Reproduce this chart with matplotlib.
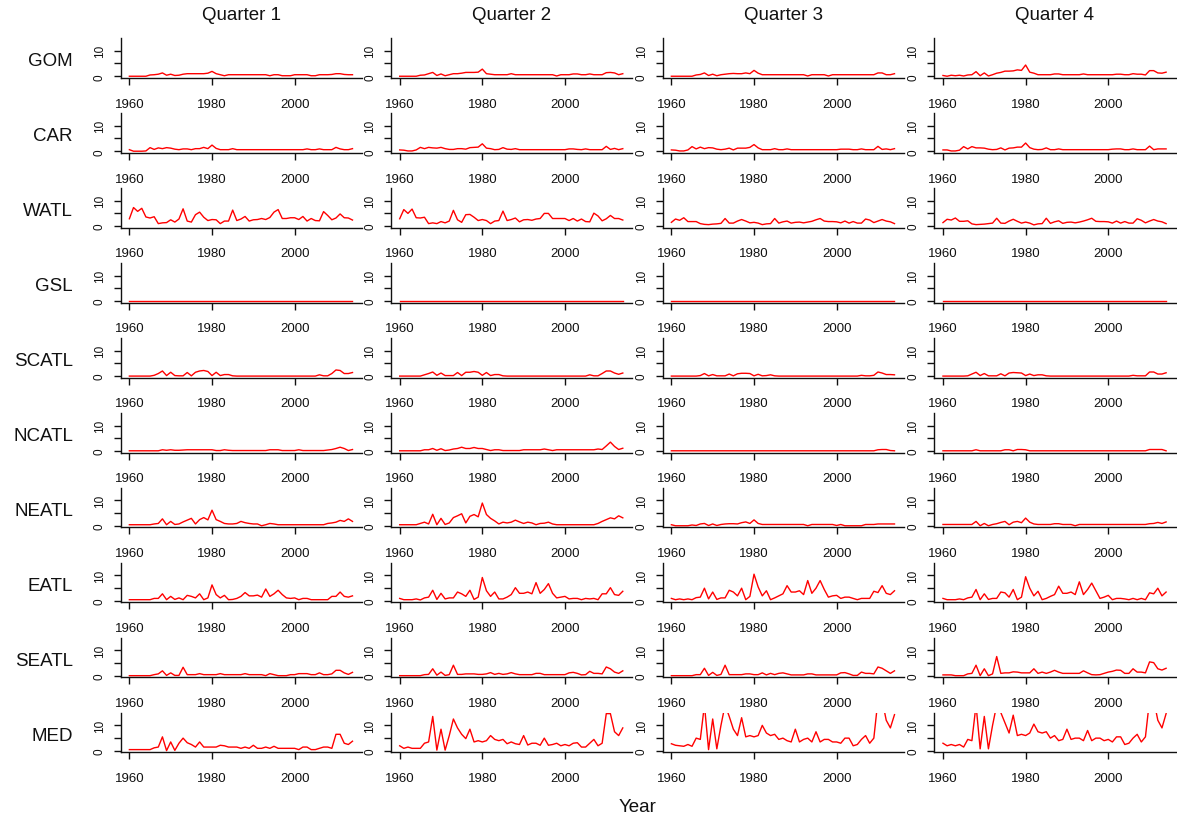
import matplotlib
matplotlib.use("Agg")
import matplotlib.pyplot as plt

plt.rcParams['font.family'] = ['Liberation Sans', 'DejaVu Sans']

years = list(range(1960, 2015))
quarters = ["Quarter 1", "Quarter 2", "Quarter 3", "Quarter 4"]
regions = ["GOM", "CAR", "WATL", "GSL", "SCATL", "NCATL", "NEATL", "EATL", "SEATL", "MED"]

# one list per quarter, 1960..2014
gom = [
    [0, 0, 0, 0, 0, 0.5, 0.6, 0.8, 1.3, 0.4,
     0.8, 0.3, 0.4, 0.8, 1.0, 1.0, 1.0, 1.0, 1.0, 1.2,
     1.9, 1.0, 0.6, 0.2, 0.6, 0.6, 0.6, 0.6, 0.6, 0.6,
     0.6, 0.6, 0.6, 0.6, 0.2, 0.6, 0.6, 0.2, 0.2, 0.2,
     0.6, 0.6, 0.6, 0.6, 0.2, 0.2, 0.6, 0.6, 0.6, 0.7,
     1.0, 1.0, 0.7, 0.6, 0.6],
    [0, 0, 0, 0, 0, 0.4, 0.5, 1.0, 1.5, 0.3,
     0.9, 0.2, 0.6, 1.0, 1.0, 1.2, 1.5, 1.5, 1.5, 1.6,
     2.8, 1.0, 0.8, 0.6, 0.6, 0.6, 0.6, 1.0, 0.6, 0.6,
     0.6, 0.6, 0.6, 0.6, 0.6, 0.6, 0.6, 0.6, 0.1, 0.6,
     0.6, 0.6, 0.9, 0.9, 0.6, 0.6, 0.9, 0.6, 0.6, 0.6,
     1.4, 1.5, 1.3, 0.6, 1.0],
    [0, 0, 0, 0, 0, 0, 0.5, 0.7, 1.3, 0.3,
     0.8, 0.2, 0.6, 0.8, 1.0, 1.1, 1.0, 1.0, 1.3, 1.0,
     2.3, 1.2, 0.6, 0.6, 0.6, 0.6, 0.6, 0.6, 0.6, 0.6,
     0.6, 0.6, 0.6, 0.1, 0.6, 0.6, 0.6, 0.6, 0.1, 0.6,
     0.6, 0.6, 0.6, 0.6, 0.6, 0.6, 0.6, 0.6, 0.6, 0.6,
     1.3, 1.3, 0.6, 0.6, 1.0],
    [0.3, 0, 0.4, 0.2, 0.4, 0.1, 0.5, 0.6, 1.8, 0.2,
     1.3, 0.1, 0.6, 1.2, 1.5, 2.0, 2.0, 2.1, 2.5, 2.3,
     4.4, 1.6, 1.2, 0.6, 0.6, 0.6, 0.6, 0.9, 0.9, 0.6,
     0.6, 0.6, 0.6, 0.6, 0.9, 0.6, 0.6, 0.6, 0.6, 0.6,
     0.6, 0.6, 0.8, 0.8, 0.6, 0.6, 1.0, 0.8, 0.8, 0.5,
     2.2, 2.2, 1.3, 1.2, 1.6],
]

car = [
    [0.6, 0, 0, 0, 0.1, 1.4, 0.7, 1.3, 1.0, 1.4,
     1.2, 0.8, 0.6, 0.9, 0.9, 0.6, 1.0, 1.0, 1.5, 1.0,
     2.4, 1.1, 0.6, 0.6, 0.6, 1.0, 0.6, 0.6, 0.6, 0.6,
     0.6, 0.6, 0.6, 0.6, 0.6, 0.6, 0.6, 0.6, 0.6, 0.6,
     0.6, 0.6, 0.6, 0.9, 0.6, 0.6, 0.9, 0.6, 0.6, 0.6,
     1.5, 0.9, 0.6, 0.6, 1.0],
    [0.5, 0.4, 0.1, 0.1, 0.5, 1.5, 1.0, 1.5, 1.3, 1.2,
     1.5, 1.0, 0.7, 0.7, 1.0, 1.0, 0.8, 1.4, 1.5, 1.6,
     2.9, 1.2, 1.0, 0.6, 0.7, 1.4, 0.8, 0.7, 1.0, 0.6,
     0.6, 0.6, 0.6, 0.6, 0.6, 0.6, 0.6, 0.6, 0.6, 0.6,
     0.6, 0.9, 0.9, 0.7, 0.6, 0.9, 0.6, 0.6, 0.6, 0.6,
     1.9, 0.7, 1.1, 0.6, 1.0],
    [0.5, 0.4, 0.1, 0.1, 0.5, 1.8, 0.9, 1.6, 1.0, 1.4,
     1.3, 0.8, 0.6, 0.8, 1.2, 0.5, 1.2, 1.2, 1.2, 1.5,
     2.6, 1.3, 0.6, 0.6, 0.6, 1.0, 0.6, 0.6, 0.9, 0.6,
     0.6, 0.6, 0.6, 0.6, 0.6, 0.6, 0.6, 0.6, 0.6, 0.6,
     0.6, 0.8, 0.8, 0.8, 0.6, 0.6, 0.9, 0.6, 0.6, 0.6,
     1.9, 0.7, 0.9, 0.6, 1.0],
    [0.5, 0.5, 0.1, 0.1, 0.4, 1.8, 0.9, 1.8, 1.3, 1.3,
     1.2, 0.8, 0.6, 0.7, 1.3, 0.5, 1.2, 1.3, 1.6, 1.6,
     3.2, 1.4, 0.8, 0.6, 0.7, 1.3, 0.6, 0.6, 0.9, 0.6,
     0.6, 0.6, 0.6, 0.6, 0.6, 0.6, 0.6, 0.6, 0.6, 0.6,
     0.6, 0.8, 0.9, 0.9, 0.6, 0.6, 0.9, 0.6, 0.6, 0.6,
     2.0, 0.6, 0.9, 0.9, 0.9],
]

watl = [
    [2.9, 7.3, 5.8, 7.0, 3.6, 3.2, 3.7, 1.0, 1.3, 1.4,
     2.5, 1.6, 2.8, 6.8, 2.0, 1.6, 4.5, 5.5, 3.5, 2.2,
     2.6, 2.5, 1.0, 2.0, 2.0, 6.3, 2.2, 2.8, 3.8, 2.0,
     2.5, 2.6, 3.0, 2.6, 3.4, 5.5, 6.5, 3.0, 3.0, 3.3,
     3.3, 2.6, 3.8, 2.0, 3.0, 2.2, 2.1, 5.7, 4.2, 2.5,
     3.2, 4.8, 3.3, 3.2, 2.4],
    [2.9, 6.5, 5.0, 6.7, 3.3, 3.2, 3.5, 1.0, 1.3, 1.0,
     1.8, 1.3, 2.0, 6.2, 2.5, 1.5, 4.5, 4.6, 3.5, 2.2,
     2.6, 2.2, 1.0, 2.0, 2.2, 5.9, 2.2, 2.6, 3.2, 1.7,
     2.5, 2.6, 2.3, 2.8, 3.0, 5.0, 5.0, 3.0, 3.0, 3.0,
     3.0, 2.2, 3.0, 2.0, 2.8, 1.8, 1.7, 5.1, 4.0, 2.1,
     2.9, 4.2, 3.0, 3.0, 2.4],
    [1.5, 2.8, 2.3, 3.3, 1.8, 1.8, 1.8, 1.0, 0.7, 0.6,
     0.8, 0.9, 1.1, 3.0, 1.2, 1.2, 2.0, 2.6, 2.0, 1.3,
     1.5, 1.2, 0.6, 0.9, 1.0, 3.0, 1.2, 1.7, 2.0, 1.2,
     1.5, 1.6, 1.3, 1.6, 1.9, 2.5, 3.0, 2.0, 1.8, 1.8,
     1.7, 1.3, 2.0, 1.2, 1.8, 1.2, 1.2, 2.8, 2.4, 1.4,
     2.0, 2.6, 2.0, 1.7, 1.0],
    [1.4, 2.7, 2.4, 3.2, 1.9, 1.9, 2.1, 0.9, 0.6, 0.7,
     0.8, 1.0, 1.2, 3.1, 1.2, 1.1, 2.0, 2.7, 1.9, 1.2,
     1.6, 1.2, 0.5, 0.9, 1.0, 3.1, 1.1, 1.7, 2.1, 1.1,
     1.5, 1.6, 1.3, 1.6, 2.0, 2.5, 3.1, 1.9, 1.8, 1.8,
     1.7, 1.2, 2.0, 1.2, 1.8, 1.2, 1.2, 2.9, 2.3, 1.3,
     2.0, 2.6, 2.0, 1.7, 1.0],
]

gsl_q = [0, 0, 0, 0, 0, 0, 0, 0, 0, 0,
         0, 0, 0, 0, 0, 0, 0, 0, 0, 0,
         0, 0, 0, 0, 0, 0, 0, 0, 0, 0,
         0, 0, 0, 0, 0, 0, 0, 0, 0, 0,
         0, 0, 0, 0, 0, 0, 0, 0, 0, 0,
         0, 0, 0, 0, 0]
gsl = [gsl_q, gsl_q, gsl_q, gsl_q]

scatl = [
    [0, 0, 0, 0, 0, 0, 0.3, 1.0, 2.0, 0.2,
     1.5, 0.2, 0.1, 0.1, 1.4, 0.1, 1.5, 2.0, 2.2, 1.8,
     0.2, 1.5, 0.2, 0.6, 0.6, 0.1, 0, 0, 0, 0,
     0, 0, 0, 0, 0, 0, 0, 0, 0, 0,
     0, 0, 0, 0, 0, 0, 0.5, 0.1, 0.1, 1.0,
     2.4, 2.2, 1.0, 1.0, 1.4],
    [0, 0, 0, 0, 0, 0, 0.5, 1.0, 1.6, 0.3,
     1.2, 0.2, 0.2, 0.2, 1.4, 0.2, 1.5, 1.5, 1.8, 1.5,
     0.3, 1.4, 0.2, 0.6, 0.6, 0.1, 0, 0, 0, 0,
     0, 0, 0, 0, 0, 0, 0, 0, 0, 0,
     0, 0, 0, 0, 0, 0, 0.5, 0.1, 0.1, 1.0,
     2.0, 2.0, 1.2, 0.7, 1.2],
    [0, 0, 0, 0, 0, 0, 0, 0.2, 1.0, 0.1,
     0.6, 0.1, 0.1, 0.1, 0.8, 0.1, 0.9, 1.1, 1.1, 1.0,
     0.1, 0.7, 0.1, 0.2, 0.5, 0.1, 0, 0, 0, 0,
     0, 0, 0, 0, 0, 0, 0, 0, 0, 0,
     0, 0, 0, 0, 0, 0, 0.3, 0.1, 0.1, 0.3,
     1.6, 1.2, 0.6, 0.6, 0.5],
    [0, 0, 0, 0, 0, 0, 0.1, 0.8, 1.5, 0.2,
     1.0, 0.1, 0.1, 0.1, 0.9, 0.1, 1.2, 1.4, 1.3, 1.2,
     0.2, 0.8, 0.2, 0.5, 0.5, 0.1, 0, 0, 0, 0,
     0, 0, 0, 0, 0, 0, 0, 0, 0, 0,
     0, 0, 0, 0, 0, 0, 0.3, 0.1, 0.1, 0.1,
     1.6, 1.6, 0.8, 0.8, 1.3],
]

ncatl = [
    [0.1, 0.1, 0.1, 0.1, 0.1, 0.1, 0.1, 0.1, 0.5, 0.3,
     0.5, 0.3, 0.3, 0.4, 0.5, 0.5, 0.5, 0.5, 0.5, 0.5,
     0.5, 0.2, 0.2, 0.5, 0.3, 0.2, 0.2, 0.2, 0.2, 0.2,
     0.2, 0.2, 0.2, 0.2, 0.5, 0.5, 0.5, 0.2, 0.2, 0.2,
     0.2, 0.5, 0.2, 0.2, 0.2, 0.2, 0.2, 0.2, 0.4, 0.6,
     1.0, 1.5, 1.0, 0.2, 0.6],
    [0.1, 0.1, 0.1, 0.1, 0.1, 0.1, 0.5, 0.5, 1.0, 0.3,
     0.9, 0.2, 0.4, 0.8, 1.0, 1.5, 1.0, 1.0, 1.4, 1.0,
     1.0, 0.6, 0.2, 0.5, 0.5, 0.2, 0.2, 0.2, 0.2, 0.2,
     0.5, 0.5, 0.5, 0.5, 0.5, 0.8, 0.5, 0.2, 0.5, 0.5,
     0.5, 0.5, 0.5, 0.5, 0.5, 0.5, 0.5, 0.5, 0.8, 0.6,
     2.0, 3.5, 1.8, 0.6, 1.1],
    [0.1, 0.1, 0.1, 0.1, 0.1, 0.1, 0.1, 0.1, 0.1, 0.1,
     0.1, 0.1, 0.1, 0.1, 0.1, 0.1, 0.1, 0.1, 0.1, 0.1,
     0.1, 0.1, 0.1, 0.1, 0.1, 0.1, 0.1, 0.1, 0.1, 0.1,
     0.1, 0.1, 0.1, 0.1, 0.1, 0.1, 0.1, 0.1, 0.1, 0.1,
     0.1, 0.1, 0.1, 0.1, 0.1, 0.1, 0.1, 0.1, 0.1, 0.1,
     0.5, 0.6, 0.6, 0.2, 0.1],
    [0.1, 0.1, 0.1, 0.1, 0.1, 0.1, 0.1, 0.1, 0.5, 0.1,
     0.1, 0.1, 0.1, 0.1, 0.1, 0.5, 0.5, 0.1, 0.6, 0.6,
     0.5, 0.1, 0.1, 0.1, 0.1, 0.1, 0.1, 0.1, 0.1, 0.1,
     0.1, 0.1, 0.1, 0.1, 0.1, 0.1, 0.1, 0.1, 0.1, 0.1,
     0.1, 0.1, 0.1, 0.1, 0.1, 0.1, 0.1, 0.1, 0.1, 0.1,
     0.6, 0.6, 0.6, 0.6, 0.1],
]

neatl = [
    [0.5, 0.5, 0.5, 0.5, 0.5, 0.5, 0.8, 1.0, 2.8, 0.5,
     1.8, 0.6, 0.8, 1.6, 2.3, 3.0, 0.8, 2.5, 3.3, 2.4,
     6.2, 2.5, 1.8, 1.0, 0.8, 0.8, 1.0, 1.8, 1.3, 1.0,
     0.8, 0.8, 0.1, 0.5, 1.0, 0.8, 0.5, 0.5, 0.5, 0.5,
     0.5, 0.5, 0.5, 0.5, 0.5, 0.5, 0.5, 0.5, 1.0, 1.2,
     1.5, 2.2, 1.8, 2.8, 1.8],
    [0.5, 0.5, 0.5, 0.5, 0.5, 1.0, 1.5, 0.8, 4.6, 0.5,
     3.0, 0.6, 1.2, 3.3, 4.0, 4.8, 1.2, 3.8, 4.5, 3.6,
     9.0, 4.5, 3.0, 2.0, 0.8, 1.5, 1.2, 1.5, 2.3, 1.6,
     1.0, 1.5, 1.2, 0.5, 1.0, 1.1, 1.5, 0.8, 0.5, 0.5,
     0.5, 0.5, 0.5, 0.5, 0.5, 0.5, 0.5, 0.5, 1.0, 1.8,
     2.5, 3.2, 2.8, 4.0, 3.2],
    [0.5, 0.1, 0.1, 0.1, 0.1, 0.4, 0.2, 0.8, 1.0, 0.2,
     0.8, 0.2, 0.6, 0.8, 0.9, 0.9, 0.8, 1.3, 1.6, 1.0,
     2.4, 1.0, 0.6, 0.6, 0.6, 0.6, 0.6, 0.6, 0.6, 0.6,
     0.6, 0.6, 0.6, 0.1, 0.6, 0.6, 0.6, 0.6, 0.6, 0.6,
     0.2, 0.6, 0.1, 0.1, 0.1, 0.1, 0.1, 0.6, 0.6, 0.6,
     0.8, 0.8, 0.8, 0.8, 0.8],
    [0.6, 0.6, 0.6, 0.6, 0.6, 0.6, 0.6, 0.6, 1.8, 0.1,
     1.0, 0.1, 0.6, 0.9, 1.4, 1.8, 0.5, 1.5, 1.8, 1.3,
     3.1, 1.5, 0.8, 0.6, 0.6, 0.6, 0.6, 0.9, 0.9, 0.6,
     0.6, 0.6, 0.1, 0.6, 0.6, 0.6, 0.6, 0.6, 0.6, 0.6,
     0.6, 0.6, 0.6, 0.6, 0.6, 0.6, 0.6, 0.6, 0.6, 0.6,
     0.9, 1.0, 1.4, 1.0, 1.6],
]

eatl = [
    [0.5, 0.5, 0.5, 0.5, 0.5, 0.5, 1.0, 1.0, 2.8, 0.5,
     1.8, 0.6, 1.2, 0.5, 2.2, 1.8, 1.2, 2.8, 0.5, 1.2,
     6.3, 2.5, 1.2, 2.2, 0.5, 0.6, 1.0, 1.8, 3.3, 2.0,
     2.0, 2.3, 1.5, 4.7, 1.8, 2.8, 4.2, 2.5, 1.2, 1.0,
     1.2, 0.5, 1.0, 1.0, 0.5, 0.5, 0.5, 0.5, 0.5, 1.8,
     1.8, 3.5, 1.8, 1.5, 2.0],
    [1.0, 0.5, 0.5, 0.5, 0.8, 0.4, 1.2, 1.5, 4.2, 0.6,
     3.0, 0.8, 1.2, 1.2, 3.5, 2.8, 1.8, 4.2, 0.6, 1.5,
     9.2, 4.0, 1.8, 3.5, 0.8, 0.8, 1.5, 2.5, 5.2, 3.0,
     3.0, 3.5, 2.8, 7.2, 3.0, 4.5, 6.8, 3.0, 1.2, 1.5,
     1.8, 0.8, 1.0, 1.0, 0.5, 1.0, 0.8, 1.0, 0.5, 2.8,
     2.8, 5.2, 2.5, 2.2, 3.8],
    [1.0, 0.5, 0.8, 0.5, 0.8, 0.5, 1.3, 1.5, 5.0, 0.8,
     3.5, 0.6, 1.2, 1.2, 4.2, 3.5, 2.0, 5.0, 0.5, 1.8,
     10.5, 5.5, 2.0, 4.0, 0.5, 1.2, 2.0, 2.8, 6.0, 3.5,
     3.5, 4.0, 2.5, 8.0, 3.0, 5.0, 8.0, 4.5, 1.5, 2.0,
     2.2, 1.0, 1.5, 1.5, 1.0, 0.5, 1.0, 1.0, 1.0, 3.8,
     3.3, 6.0, 3.0, 2.5, 4.0],
    [1.0, 0.5, 0.5, 0.5, 0.8, 0.5, 1.2, 1.5, 4.5, 0.5,
     2.8, 0.6, 1.0, 1.0, 3.5, 3.2, 1.5, 4.5, 0.5, 1.5,
     9.5, 5.0, 2.0, 3.8, 0.5, 1.0, 1.8, 2.5, 5.8, 3.0,
     3.0, 3.5, 2.5, 7.5, 2.5, 4.5, 7.0, 4.0, 1.0, 1.5,
     2.2, 0.5, 1.0, 1.0, 0.8, 0.5, 1.0, 0.5, 1.0, 0.5,
     3.2, 2.8, 5.0, 2.0, 3.5],
]

seatl = [
    [0.1, 0.1, 0.1, 0.1, 0.1, 0.1, 0.5, 0.8, 2.0, 0.2,
     1.2, 0.2, 0.2, 3.4, 0.5, 0.5, 0.5, 0.9, 0.5, 0.5,
     0.5, 0.5, 0.9, 0.5, 0.5, 0.5, 0.5, 0.5, 0.9, 0.5,
     0.5, 0.5, 0.5, 0.1, 0.9, 0.5, 0.1, 0.1, 0.1, 0.5,
     0.5, 0.9, 0.9, 0.9, 0.5, 0.5, 1.2, 0.5, 0.5, 0.8,
     2.2, 2.2, 1.2, 0.6, 1.4],
    [0.1, 0.1, 0.1, 0.1, 0.1, 0.1, 0.5, 0.6, 2.8, 0.3,
     1.5, 0.2, 0.5, 4.2, 0.6, 0.6, 0.8, 0.8, 0.8, 0.6,
     0.6, 0.8, 1.3, 0.6, 1.0, 0.6, 0.8, 1.3, 0.8, 0.5,
     0.5, 0.5, 0.5, 1.0, 1.0, 0.5, 0.5, 0.5, 0.5, 0.5,
     0.5, 1.2, 1.4, 1.0, 0.4, 0.5, 1.8, 1.0, 1.0, 0.8,
     3.5, 2.8, 1.5, 1.0, 2.0],
    [0.1, 0.1, 0.1, 0.1, 0.1, 0.1, 0.5, 0.5, 3.0, 0.2,
     1.4, 0.2, 0.6, 4.2, 0.5, 0.5, 0.5, 0.5, 0.8, 0.8,
     0.5, 0.5, 1.2, 0.4, 1.0, 0.5, 1.0, 1.2, 0.8, 0.4,
     0.4, 0.4, 0.4, 0.8, 0.8, 0.4, 0.4, 0.4, 0.4, 0.4,
     0.4, 1.2, 1.3, 0.8, 0.2, 0.2, 1.5, 1.0, 1.0, 0.8,
     3.5, 3.0, 2.0, 1.0, 2.0],
    [0.4, 0.4, 0.4, 0.1, 0.1, 0.1, 0.8, 1.0, 4.2, 0.1,
     2.8, 0.1, 0.8, 7.6, 1.0, 1.2, 1.2, 1.6, 1.5, 1.2,
     1.2, 1.2, 2.8, 1.0, 1.5, 1.0, 1.5, 2.2, 1.5, 1.0,
     1.0, 1.0, 1.0, 1.0, 2.0, 1.2, 0.5, 0.4, 0.5, 1.0,
     1.5, 1.8, 2.3, 2.2, 1.0, 1.0, 2.8, 1.5, 1.5, 1.2,
     5.5, 5.2, 2.8, 2.3, 3.0],
]

med = [
    [0.5, 0.5, 0.5, 0.5, 0.5, 0.5, 1.2, 1.5, 5.5, 0.1,
     3.5, 0.2, 3.0, 5.0, 3.2, 2.5, 1.5, 3.5, 1.5, 1.5,
     1.5, 1.5, 2.2, 2.0, 1.5, 1.5, 1.5, 1.0, 1.5, 1.0,
     2.2, 1.0, 1.0, 1.5, 1.0, 1.8, 1.0, 1.0, 1.0, 1.0,
     1.0, 0.5, 1.5, 1.5, 0.5, 0.5, 1.0, 1.5, 1.5, 1.0,
     6.5, 6.5, 3.0, 2.5, 3.8],
    [2.0, 1.0, 1.5, 1.0, 1.0, 1.0, 3.0, 3.5, 13.5, 0.3,
     8.5, 0.3, 6.0, 12.5, 9.0, 6.5, 4.8, 8.5, 3.5, 4.0,
     3.5, 4.0, 6.0, 4.5, 4.0, 4.5, 2.8, 3.5, 2.8, 2.5,
     6.0, 2.3, 3.0, 3.0, 2.2, 5.0, 2.2, 2.5, 3.0, 2.0,
     2.5, 2.0, 3.0, 3.2, 1.5, 1.5, 3.0, 4.5, 2.0, 3.0,
     14.6, 14.6, 7.5, 6.0, 9.0],
    [2.8, 2.2, 2.0, 1.8, 2.5, 1.8, 5.0, 4.5, 18.0, 0.5,
     12.5, 0.8, 10.0, 18.0, 13.5, 8.5, 6.0, 13.0, 5.5, 6.0,
     5.5, 6.0, 10.0, 7.0, 6.0, 6.5, 4.5, 5.0, 4.0, 3.5,
     8.5, 3.5, 4.5, 5.0, 3.5, 7.5, 3.5, 4.5, 4.5, 3.5,
     3.5, 3.0, 5.0, 5.0, 2.0, 2.5, 4.5, 6.0, 3.0, 5.0,
     20.0, 20.0, 12.0, 9.0, 14.2],
    [3.0, 2.0, 2.5, 2.0, 2.5, 1.5, 4.5, 4.0, 18.0, 0.8,
     13.5, 0.8, 10.0, 18.0, 15.0, 11.0, 7.0, 14.0, 6.0, 6.5,
     6.0, 7.0, 10.5, 7.5, 7.0, 7.5, 5.0, 6.0, 4.0, 4.5,
     8.5, 4.5, 5.0, 5.0, 4.0, 8.0, 4.0, 5.0, 5.0, 4.0,
     4.5, 3.5, 5.5, 5.5, 2.5, 3.0, 5.0, 6.5, 3.5, 5.5,
     20.0, 20.0, 12.0, 9.0, 14.6],
]

series = [gom, car, watl, gsl, scatl, ncatl, neatl, eatl, seatl, med]

# page layout in pixels
W, H = 1177, 820
col_left = [120.7, 391.0, 662.7, 934.3]
row_step = 74.96
first_bottom = 78.7
pw, ph = 241.3, 39.4

fig = plt.figure(figsize=(W / 100, H / 100), dpi=100)

for i, name in enumerate(regions):
    yb = first_bottom + row_step * i
    for j in range(4):
        x0 = col_left[j]
        ax = fig.add_axes([x0 / W, 1 - yb / H, pw / W, ph / H])
        ax.plot(years, series[i][j], color='red', lw=1.0)
        ax.set_xlim(1957.9, 2016.3)
        ax.set_ylim(-0.57, 14.87)
        for s in ['top', 'right']:
            ax.spines[s].set_visible(False)
        for s in ['left', 'bottom']:
            ax.spines[s].set_linewidth(1.0)
            ax.spines[s].set_color('#111111')
        ax.set_xticks([1960, 1980, 2000])
        ax.set_yticks([0, 5, 10])
        ax.set_yticklabels(['0', '', '10'])
        ax.tick_params(axis='x', length=4.8, width=1.0, pad=9.5, labelsize=9.5,
                       colors='#111111')
        ax.tick_params(axis='y', length=5.2, width=1.0, pad=5.5, labelsize=8.5,
                       labelrotation=90, colors='#111111')
        for lbl in ax.get_yticklabels():
            lbl.set_va('center')
    fig.text(73 / W, 1 - (yb - 17) / H, name, ha='right', va='center',
             fontsize=13.5, color='#111111')

for j, q in enumerate(quarters):
    fig.text((col_left[j] + pw / 2) / W, 1 - 15 / H, q, ha='center',
             va='center', fontsize=13.5, color='#111111')

fig.text(638 / W, 1 - 808 / H, 'Year', ha='center', va='center', fontsize=13.5,
         color='#111111')

fig.savefig('out.png', dpi=100)
